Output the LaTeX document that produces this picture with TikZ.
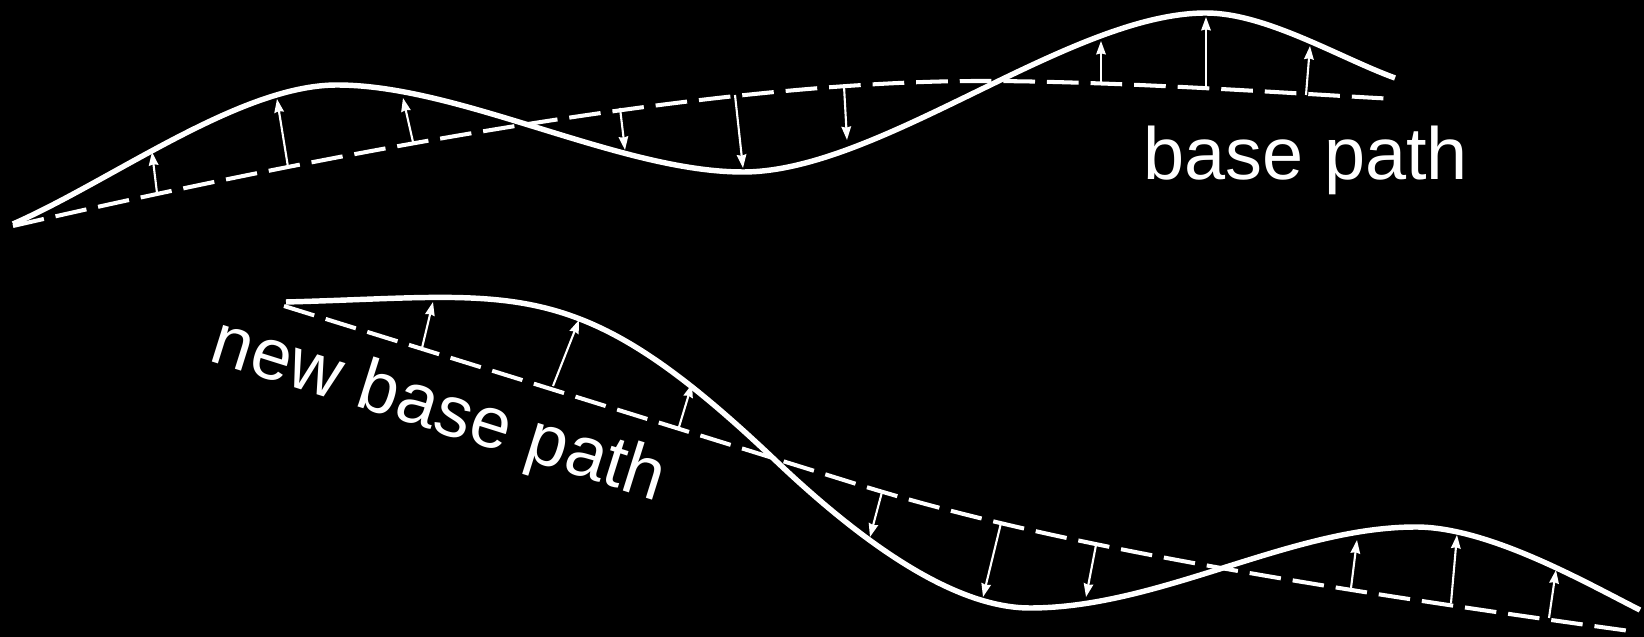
\documentclass[tikz,border=0pt]{standalone}
\usepackage{fontspec}
\setmainfont{Liberation Sans}
\usetikzlibrary{arrows.meta}
\begin{document}
\begin{tikzpicture}[x=0.01cm,y=-0.01cm,
  wave/.style={white, line width=1.55pt},
  basepath/.style={white, line width=1.15pt, dash pattern=on 9pt off 3.4pt},
  offset/.style={white, line width=0.6pt, -{Stealth[length=3.8pt,width=2.7pt,inset=0.3pt]}},
  lbl/.style={text=white, inner sep=0pt}]
\fill[black] (0,0) rectangle (1644,637);
\useasboundingbox (0,0) rectangle (1644,637);

% ---------- top: base path and curve ----------
\draw[basepath] (13,226) .. controls (500,114) and (800,81) .. (980,81)
  .. controls (1120,81) and (1300,94) .. (1395,99);
\draw[wave] (13,224) .. controls (113,180) and (240,85) .. (337,85)
  .. controls (460,85) and (620,172) .. (743,172)
  .. controls (880,172) and (1070,13) .. (1206,13)
  .. controls (1266,13) and (1340,58) .. (1395,78);

\coordinate (a1s) at (157,193); \coordinate (a1e) at (152,152);
\coordinate (a2s) at (288,167); \coordinate (a2e) at (277,99);
\coordinate (a3s) at (413,142); \coordinate (a3e) at (403,98);
\coordinate (a4s) at (620,108); \coordinate (a4e) at (625,150);
\coordinate (a5s) at (735,95);  \coordinate (a5e) at (743,168);
\coordinate (a6s) at (844,86);  \coordinate (a6e) at (847,140);
\coordinate (a7s) at (1101,85); \coordinate (a7e) at (1101,41);
\coordinate (a8s) at (1206,89); \coordinate (a8e) at (1206,17);
\coordinate (a9s) at (1306,95); \coordinate (a9e) at (1310,46);
\foreach \i in {1,...,9} {\draw[offset] (a\i s) -- (a\i e);}

\node[lbl, anchor=base west, font=\fontsize{21}{25}\selectfont] (toplabel) at (1143,180) {base path};

% ---------- bottom: new base path and curve ----------
\draw[basepath] (284,306) -- (850,482) .. controls (1000,529) and (1200,572) .. (1637,632);
\draw[wave] (286,302) .. controls (520,296) and (575,270) .. (775,460)
  .. controls (855,536) and (950,608) .. (1030,608)
  .. controls (1160,608) and (1290,527) .. (1416,527)
  .. controls (1490,527) and (1590,585) .. (1640,610);

\coordinate (b1s) at (422,348);  \coordinate (b1e) at (433,302);
\coordinate (b2s) at (553,386);  \coordinate (b2e) at (579,320);
\coordinate (b3s) at (679,427);  \coordinate (b3e) at (692,384);
\coordinate (b4s) at (882,492);  \coordinate (b4e) at (870,537);
\coordinate (b5s) at (1001,523); \coordinate (b5e) at (983,597);
\coordinate (b6s) at (1096,545); \coordinate (b6e) at (1086,597);
\coordinate (b7s) at (1351,588); \coordinate (b7e) at (1357,540);
\coordinate (b8s) at (1451,603); \coordinate (b8e) at (1457,535);
\coordinate (b9s) at (1549,618); \coordinate (b9e) at (1556,570);
\foreach \i in {1,...,9} {\draw[offset] (b\i s) -- (b\i e);}

\node[lbl, anchor=base west, rotate=-17.4, font=\fontsize{20.6}{24}\selectfont] (bottomlabel) at (207,360) {new base path};
\end{tikzpicture}
\end{document}
